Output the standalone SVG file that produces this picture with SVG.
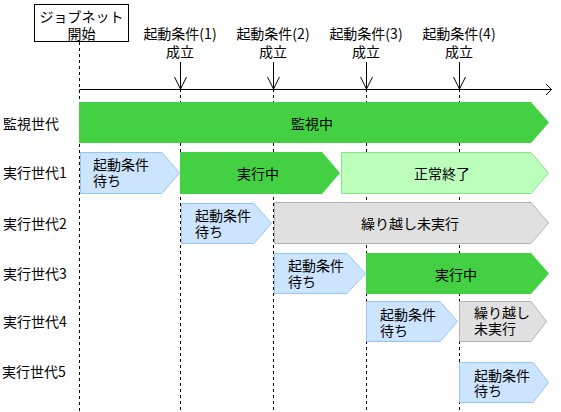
<svg xmlns="http://www.w3.org/2000/svg" width="561" height="412" viewBox="0 0 561 412">
<style>
text{font-family:"Noto Sans CJK JP","Liberation Sans",sans-serif;font-size:14px;fill:#000;dominant-baseline:central}
.c{text-anchor:middle}
.guide{stroke:#000;stroke-width:1;stroke-dasharray:3 3;fill:none}
.ln{stroke:#000;stroke-width:1;fill:none}
.green{fill:#43d143}
.lgreen{fill:#bbffbb;stroke:#85e585;stroke-width:1}
.blue{fill:#cce4fe;stroke:#95c6f2;stroke-width:1}
.gray{fill:#e0e0e0;stroke:#b2b2b2;stroke-width:1}
</style>
<rect width="561" height="412" fill="#fff"/>
<g id="guides">
<line class="guide" x1="79.5" y1="42" x2="79.5" y2="412"/>
<line class="guide" x1="180.5" y1="89" x2="180.5" y2="412"/>
<line class="guide" x1="273.5" y1="89" x2="273.5" y2="412"/>
<line class="guide" x1="366.5" y1="89" x2="366.5" y2="412"/>
<line class="guide" x1="459.5" y1="89" x2="459.5" y2="412"/>
</g>
<g id="start">
<rect x="34.5" y="4.5" width="94" height="37" fill="#fff" stroke="#000"/>
<text class="c"><tspan x="81.5" y="16">ジョブネット</tspan><tspan x="81.5" dy="17">開始</tspan></text>
</g>
<g id="conditions">
<text class="c"><tspan x="180" y="33">起動条件(1)</tspan><tspan x="180" dy="18">成立</tspan></text>
<text class="c"><tspan x="273" y="33">起動条件(2)</tspan><tspan x="273" dy="18">成立</tspan></text>
<text class="c"><tspan x="366" y="33">起動条件(3)</tspan><tspan x="366" dy="18">成立</tspan></text>
<text class="c"><tspan x="459" y="33">起動条件(4)</tspan><tspan x="459" dy="18">成立</tspan></text>
</g>
<g id="connectors">
<polyline class="ln" points="79.5,89.5 551.5,89.5"/>
<polyline class="ln" points="546,84 551.5,89.5 546,95"/>
<line class="ln" x1="180.5" y1="62" x2="180.5" y2="89"/>
<polyline class="ln" points="174.5,77 180.5,89 186.5,77"/>
<line class="ln" x1="273.5" y1="62" x2="273.5" y2="89"/>
<polyline class="ln" points="267.5,77 273.5,89 279.5,77"/>
<line class="ln" x1="366.5" y1="62" x2="366.5" y2="89"/>
<polyline class="ln" points="360.5,77 366.5,89 372.5,77"/>
<line class="ln" x1="459.5" y1="62" x2="459.5" y2="89"/>
<polyline class="ln" points="453.5,77 459.5,89 465.5,77"/>
</g>
<g id="labels">
<text x="3" y="122.5">監視世代</text>
<text x="3" y="172">実行世代1</text>
<text x="3" y="223">実行世代2</text>
<text x="3" y="273">実行世代3</text>
<text x="3" y="321">実行世代4</text>
<text x="2" y="371">実行世代5</text>
</g>
<g id="monitor">
<polygon class="green" points="79,102 531,102 549,122.5 531,143 79,143"/>
<text class="c" x="312" y="122.5">監視中</text>
</g>
<g id="gen1-wait">
<polygon class="blue" points="80.5,152.5 162,152.5 179.5,173 162,193.5 80.5,193.5"/>
<text><tspan x="93" y="164">起動条件</tspan><tspan x="93" dy="16">待ち</tspan></text>
</g>
<g id="gen1-run">
<polygon class="green" points="180,152 322,152 340,173 322,194 180,194"/>
<text class="c" x="258" y="173">実行中</text>
</g>
<g id="gen1-done">
<polygon class="lgreen" points="341.5,152.5 531,152.5 548.5,173 531,193.5 341.5,193.5"/>
<text class="c" x="442" y="173">正常終了</text>
</g>
<g id="gen2-wait">
<polygon class="blue" points="181.5,203.5 254,203.5 271.5,223.5 254,243.5 181.5,243.5"/>
<text><tspan x="195" y="215">起動条件</tspan><tspan x="195" dy="16">待ち</tspan></text>
</g>
<g id="gen2-skip">
<polygon class="gray" points="274.5,202.5 531,202.5 548.5,223 531,243.5 274.5,243.5"/>
<text class="c" x="410" y="223">繰り越し未実行</text>
</g>
<g id="gen3-wait">
<polygon class="blue" points="274.5,253.5 347,253.5 365.5,273.5 347,293.5 274.5,293.5"/>
<text><tspan x="288" y="265">起動条件</tspan><tspan x="288" dy="16">待ち</tspan></text>
</g>
<g id="gen3-run">
<polygon class="green" points="366,253 531,253 549,273.5 531,294 366,294"/>
<text class="c" x="456" y="273.5">実行中</text>
</g>
<g id="gen4-wait">
<polygon class="blue" points="366.5,301.5 440,301.5 457.5,321.5 440,341.5 366.5,341.5"/>
<text><tspan x="380" y="313.5">起動条件</tspan><tspan x="380" dy="16">待ち</tspan></text>
</g>
<g id="gen4-skip">
<polygon class="gray" points="459.5,301.5 531,301.5 546.5,321.5 531,341.5 459.5,341.5"/>
<text><tspan x="474" y="312">繰り越し</tspan><tspan x="474" dy="16">未実行</tspan></text>
</g>
<g id="gen5-wait">
<polygon class="blue" points="459.5,362.5 533,362.5 548.5,382.5 533,402.5 459.5,402.5"/>
<text><tspan x="474" y="374.5">起動条件</tspan><tspan x="474" dy="15.5">待ち</tspan></text>
</g>
</svg>
